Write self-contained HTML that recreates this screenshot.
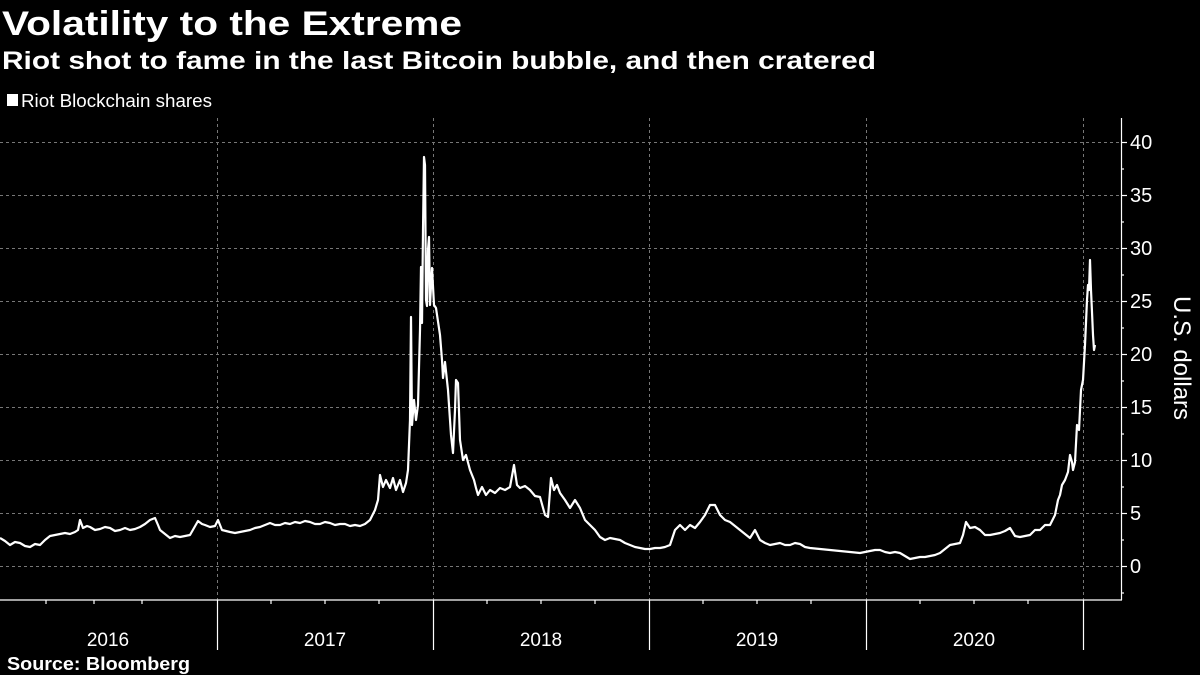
<!DOCTYPE html>
<html><head><style>body{margin:0;background:#000}svg{display:block}</style></head>
<body>
<svg width="1200" height="675" viewBox="0 0 1200 675" xmlns="http://www.w3.org/2000/svg" font-family="Liberation Sans, sans-serif">
<rect width="1200" height="675" fill="#000"/>
<text x="2" y="35" fill="#fff" font-size="34" font-weight="bold" textLength="460" lengthAdjust="spacingAndGlyphs">Volatility to the Extreme</text>
<text x="2" y="69" fill="#fff" font-size="25" font-weight="bold" textLength="874" lengthAdjust="spacingAndGlyphs">Riot shot to fame in the last Bitcoin bubble, and then cratered</text>
<rect x="7" y="94" width="11" height="12" fill="#fff"/>
<text x="21" y="107" fill="#fff" font-size="18" textLength="191" lengthAdjust="spacingAndGlyphs">Riot Blockchain shares</text>
<g stroke="#777" stroke-width="1" stroke-dasharray="3,3">
<line x1="0" x2="1121" y1="142.5" y2="142.5"/><line x1="0" x2="1121" y1="195.5" y2="195.5"/><line x1="0" x2="1121" y1="248.5" y2="248.5"/><line x1="0" x2="1121" y1="301.5" y2="301.5"/><line x1="0" x2="1121" y1="354.5" y2="354.5"/><line x1="0" x2="1121" y1="407.5" y2="407.5"/><line x1="0" x2="1121" y1="460.5" y2="460.5"/><line x1="0" x2="1121" y1="513.5" y2="513.5"/><line x1="0" x2="1121" y1="566.5" y2="566.5"/>
<line x1="217.5" x2="217.5" y1="118" y2="600"/><line x1="433.5" x2="433.5" y1="118" y2="600"/><line x1="649.5" x2="649.5" y1="118" y2="600"/><line x1="866.5" x2="866.5" y1="118" y2="600"/><line x1="1083.5" x2="1083.5" y1="118" y2="600"/>
</g>
<g stroke="#fff" stroke-width="1.2">
<line x1="0" x2="1122" y1="600" y2="600"/>
<line x1="1121.5" x2="1121.5" y1="118" y2="600"/>
<line x1="217.5" x2="217.5" y1="600" y2="650"/><line x1="433.5" x2="433.5" y1="600" y2="650"/><line x1="649.5" x2="649.5" y1="600" y2="650"/><line x1="866.5" x2="866.5" y1="600" y2="650"/><line x1="1083.5" x2="1083.5" y1="600" y2="650"/>
<line x1="46" x2="46" y1="600" y2="604"/><line x1="94" x2="94" y1="600" y2="604"/><line x1="142" x2="142" y1="600" y2="604"/>
<line x1="271" x2="271" y1="600" y2="604"/><line x1="325" x2="325" y1="600" y2="604"/><line x1="379" x2="379" y1="600" y2="604"/>
<line x1="487" x2="487" y1="600" y2="604"/><line x1="541" x2="541" y1="600" y2="604"/><line x1="595" x2="595" y1="600" y2="604"/>
<line x1="703" x2="703" y1="600" y2="604"/><line x1="757" x2="757" y1="600" y2="604"/><line x1="811" x2="811" y1="600" y2="604"/>
<line x1="920" x2="920" y1="600" y2="604"/><line x1="974" x2="974" y1="600" y2="604"/><line x1="1028" x2="1028" y1="600" y2="604"/>
<line x1="1121" x2="1127" y1="142.5" y2="142.5"/><line x1="1121" x2="1127" y1="195.5" y2="195.5"/><line x1="1121" x2="1127" y1="248.5" y2="248.5"/><line x1="1121" x2="1127" y1="301.5" y2="301.5"/><line x1="1121" x2="1127" y1="354.5" y2="354.5"/><line x1="1121" x2="1127" y1="407.5" y2="407.5"/><line x1="1121" x2="1127" y1="460.5" y2="460.5"/><line x1="1121" x2="1127" y1="513.5" y2="513.5"/><line x1="1121" x2="1127" y1="566.5" y2="566.5"/>
<line x1="1121" x2="1124" y1="169" y2="169"/><line x1="1121" x2="1124" y1="222" y2="222"/><line x1="1121" x2="1124" y1="275" y2="275"/><line x1="1121" x2="1124" y1="328" y2="328"/><line x1="1121" x2="1124" y1="381" y2="381"/><line x1="1121" x2="1124" y1="434" y2="434"/><line x1="1121" x2="1124" y1="487" y2="487"/><line x1="1121" x2="1124" y1="540" y2="540"/><line x1="1121" x2="1124" y1="593" y2="593"/>
</g>
<g fill="#fff" font-size="20">
<text x="1130" y="149">40</text><text x="1130" y="202">35</text><text x="1130" y="255">30</text><text x="1130" y="308">25</text><text x="1130" y="361">20</text><text x="1130" y="414">15</text><text x="1130" y="467">10</text><text x="1130" y="520">5</text><text x="1130" y="573">0</text>
</g>
<text transform="translate(1174,358) rotate(90)" text-anchor="middle" fill="#fff" font-size="24">U.S. dollars</text>
<g fill="#fff" font-size="19" text-anchor="middle">
<text x="108" y="646">2016</text><text x="325" y="646">2017</text><text x="541" y="646">2018</text><text x="757" y="646">2019</text><text x="974" y="646">2020</text>
</g>
<text x="7" y="670" fill="#fff" font-size="18" font-weight="bold" textLength="183" lengthAdjust="spacingAndGlyphs">Source: Bloomberg</text>
<polyline fill="none" stroke="#fff" stroke-width="2.2" stroke-linejoin="round" points="0,538 5,541 10,545 15,542 20,543 25,546 30,547 35,544 40,545 45,540 50,536 55,535 60,534 65,533 70,534 75,532 78,530 80,520 83,528 87,526 90,527 95,530 100,529 105,527 110,528 115,531 120,530 125,528 130,530 135,529 140,527 145,524 150,520 155,518 158,525 160,530 165,534 170,538 175,536 180,537 185,536 190,535 194,528 198,521 202,524 205,525 210,527 215,526 218,520 222,530 226,531 230,532 235,533 240,532 245,531 250,530 255,528 260,527 265,525 270,523 275,525 280,525 285,523 290,524 295,522 300,523 305,521 310,522 315,524 320,524 325,522 330,523 335,525 340,524 345,524 350,526 355,525 360,526 365,524 370,520 375,510 378,500 380,475 383,487 386,480 390,488 393,478 396,490 400,480 403,492 406,483 408,470 410,420 411,317 412,425 414,400 416,420 418,405 420,330 421,267 422,323 423,230 424,157 425,165 426,300 427,306 428,250 429,237 430,305 432,268 434,305 436,308 440,335 442,360 443,378 445,362 448,390 451,435 453,453 455,410 456,380 458,383 460,440 463,460 466,455 470,470 474,480 476,488 478,495 482,487 486,495 490,490 495,493 500,488 505,490 510,487 514,465 517,485 520,488 525,486 530,490 535,496 540,497 545,515 548,517 551,478 554,490 557,485 560,493 565,500 570,508 575,500 580,508 585,520 590,525 595,530 600,537 605,540 610,538 615,539 620,540 625,543 630,545 635,547 640,548 645,549 650,549 655,548 660,548 665,547 670,545 675,530 680,525 685,530 690,525 695,528 700,522 705,515 710,505 715,505 720,515 725,520 730,522 735,526 740,530 745,534 750,538 755,530 760,540 765,543 770,545 775,544 780,543 785,545 790,545 795,543 800,544 805,547 810,548 820,549 830,550 840,551 850,552 860,553 865,552 870,551 875,550 880,550 885,552 890,553 895,552 900,553 905,556 910,559 915,558 920,557 925,557 930,556 935,555 940,553 945,549 950,545 955,544 960,543 963,535 966,522 970,528 975,527 980,530 985,535 990,535 995,534 1000,533 1005,531 1010,528 1015,536 1020,537 1025,536 1030,535 1035,530 1040,530 1045,525 1050,525 1055,515 1058,500 1060,495 1062,485 1065,480 1068,472 1070,455 1072,462 1073,470 1075,462 1077,425 1079,430 1081,390 1083,380 1085,345 1087,300 1088,285 1089,290 1090,260 1091,290 1092,312 1093,335 1094,350 1095,345"/>
</svg>
</body></html>
